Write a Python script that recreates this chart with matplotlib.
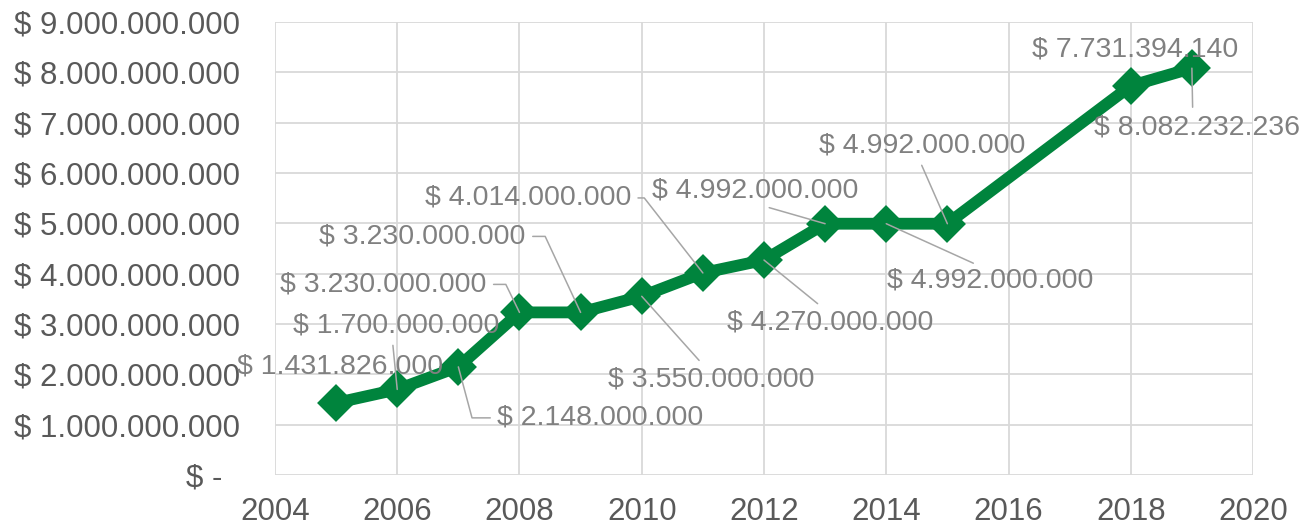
from matplotlib import pyplot
from matplotlib.ticker import FuncFormatter, MultipleLocator
import matplotlib

matplotlib.rcParams['font.family'] = ['Liberation Sans', 'DejaVu Sans']

years = [2005, 2006, 2007, 2008, 2009, 2010, 2011, 2012, 2013, 2014, 2015, 2018, 2019]
values = [1431826000, 1700000000, 2148000000, 3230000000, 3230000000, 3550000000,
          4014000000, 4270000000, 4992000000, 4992000000, 4992000000, 7731394140,
          8082232236]

# label offsets in pixels (text centre relative to point), leader start and shape
label_offsets = [(4, 36), (-1, 64), (142, -51), (-136, 28), (-158, 76), (70, -83),
                 (-175, 75), (66, -62), (-70, 33), (104, -57), (-25, 78), (4, 36), (5, -59)]
leader_relpos = [None, (0.48, 0.05), (0.0, 0.5), (1.0, 0.5), (1.0, 0.5), (0.47, 0.95),
                 (1.0, 0.5), (0.48, 0.95), (0.48, 0.05), (0.48, 0.95), (0.48, 0.05), None,
                 (0.48, 0.95)]
leader_style = [None, "arc3", "angle,angleA=0,angleB=-75,rad=0",
                "angle,angleA=0,angleB=116,rad=0", "angle,angleA=0,angleB=115,rad=0",
                "arc3", "angle,angleA=0,angleB=128,rad=0", "arc3", "arc3", "arc3",
                "arc3", None, "arc3"]

GREEN = "#00843d"
GRID = "#d9d9d9"
TICK = "#595959"
LABEL = "#808080"
LEADER = "#a6a6a6"


def money(v, pos=None):
    if v == 0:
        return "$ -   "
    return "$ " + f"{v:,.0f}".replace(",", ".") + " "


def main():
    fig = pyplot.figure(figsize=(13.1, 5.28), dpi=100)
    ax = fig.add_axes([0.2099, 0.1004, 0.7466, 0.8580])

    ax.plot(years, values, color=GREEN, lw=8.5, marker="D", ms=16,
            solid_joinstyle="round", markeredgewidth=3, markeredgecolor=GREEN,
            zorder=3)

    for i, (x, v) in enumerate(zip(years, values)):
        dx, dy = label_offsets[i]
        props = None
        if leader_relpos[i] is not None:
            props = dict(arrowstyle="-", color=LEADER, lw=1.1, shrinkA=3, shrinkB=0,
                         relpos=leader_relpos[i], connectionstyle=leader_style[i])
        ax.annotate(money(v).strip(), (x, v), xytext=(dx, dy), textcoords="offset pixels",
                    ha="center", va="center", fontsize=20.5, color=LABEL,
                    arrowprops=props, zorder=4)

    ax.set_xlim(2004, 2020)
    ax.set_ylim(0, 9e9)
    ax.xaxis.set_major_locator(MultipleLocator(2))
    ax.yaxis.set_major_locator(MultipleLocator(1e9))
    ax.yaxis.set_major_formatter(FuncFormatter(money))
    ax.grid(color=GRID, lw=1.3, zorder=0)
    ax.set_axisbelow(True)
    for s in ax.spines.values():
        s.set_visible(False)
    ax.tick_params(length=0, labelsize=22.5, colors=TICK)
    ax.tick_params(axis="y", pad=19)
    ax.tick_params(axis="x", pad=16)

    pyplot.savefig("out.png", dpi=100)
    pyplot.close()


if __name__ == '__main__':
    main()
